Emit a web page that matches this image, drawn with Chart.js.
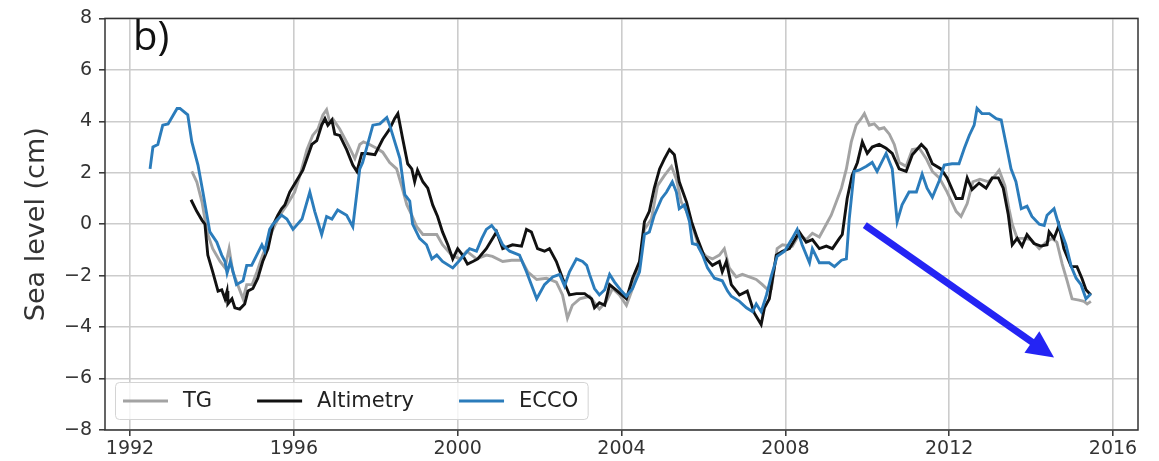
<!DOCTYPE html>
<html>
<head>
<meta charset="utf-8">
<title>Sea level</title>
<script src="https://cdn.jsdelivr.net/npm/chart.js@4/dist/chart.umd.min.js"></script>
<style>
  html, body { margin: 0; padding: 0; background: #fff; }
  #chart { display: block; }
</style>
</head>
<body>
<canvas id="chart" width="1159" height="461"></canvas>
<script>
const panelLabel = "b)";
const yTitle = "Sea level (cm)";
const xTickYears = [1992, 1996, 2000, 2004, 2008, 2012, 2016];
const yTickValues = [-8, -6, -4, -2, 0, 2, 4, 6, 8];

// tide gauge
const tgYears = [
  1993.51, 1993.63, 1993.76, 1993.88, 1994.02, 1994.2, 1994.32, 1994.42, 1994.51, 1994.63,
  1994.76, 1994.85, 1994.98, 1995.1, 1995.24, 1995.37, 1995.49, 1995.66, 1995.83, 1996.02,
  1996.15, 1996.32, 1996.46, 1996.59, 1996.71, 1996.8, 1996.88, 1996.95, 1997.12, 1997.32,
  1997.49, 1997.61, 1997.7, 1997.85, 1998.02, 1998.17, 1998.34, 1998.51, 1998.63, 1998.76,
  1998.88, 1999.0, 1999.15, 1999.32, 1999.49, 1999.63, 1999.85, 2000.05, 2000.22, 2000.46,
  2000.7, 2000.85, 2001.1, 2001.32, 2001.56, 2001.71, 2001.93, 2002.17, 2002.41, 2002.56,
  2002.68, 2002.8, 2002.98, 2003.22, 2003.46, 2003.63, 2003.78, 2003.95, 2004.12, 2004.27,
  2004.44, 2004.56, 2004.73, 2004.88, 2005.05, 2005.22, 2005.34, 2005.46, 2005.59, 2005.73,
  2005.9, 2006.07, 2006.22, 2006.39, 2006.51, 2006.63, 2006.8, 2006.95, 2007.12, 2007.29,
  2007.44, 2007.54, 2007.66, 2007.8, 2007.93, 2008.17, 2008.34, 2008.51, 2008.66, 2008.83,
  2009.0, 2009.12, 2009.24, 2009.37, 2009.49, 2009.61, 2009.73, 2009.85, 2009.93, 2010.05,
  2010.17, 2010.29, 2010.41, 2010.54, 2010.66, 2010.78, 2010.95, 2011.1, 2011.27, 2011.44,
  2011.59, 2011.76, 2011.95, 2012.17, 2012.29, 2012.44, 2012.58, 2012.75, 2012.95, 2013.1,
  2013.22, 2013.36, 2013.46, 2013.54, 2013.66, 2013.83, 2014.0, 2014.2, 2014.37, 2014.51,
  2014.63, 2014.76, 2014.88, 2015.0, 2015.17, 2015.29, 2015.37, 2015.46
];
const tgLevels = [
  2.05, 1.65, 0.85, -0.3, -0.95, -1.45, -1.7, -0.95, -1.85, -2.35,
  -2.9, -2.35, -2.35, -1.85, -1.2, -0.7, -0.2, 0.35, 0.75, 1.25,
  1.9, 2.9, 3.45, 3.7, 4.25, 4.45, 3.95, 4.1, 3.7, 3.1,
  2.55, 3.1, 3.2, 3.1, 2.95, 2.8, 2.4, 2.15, 1.5, 0.75,
  0.35, -0.1, -0.4, -0.4, -0.4, -0.8, -1.2, -1.35, -1.05, -1.35,
  -1.2, -1.25, -1.45, -1.4, -1.4, -1.85, -2.15, -2.1, -2.25, -2.75,
  -3.65, -3.15, -2.9, -2.8, -3.3, -3.0, -2.5, -2.75, -3.15, -2.5,
  -1.6, -0.2, 0.2, 1.5, 1.9, 2.25, 1.75, 0.85, 0.5, -0.05,
  -0.95, -1.25, -1.35, -1.2, -0.95, -1.7, -2.05, -1.95, -2.05, -2.15,
  -2.35, -2.5, -2.5, -0.95, -0.8, -0.85, -0.4, -0.6, -0.35, -0.5,
  0.0, 0.35, 0.85, 1.4, 2.15, 3.2, 3.85, 4.1, 4.3, 3.85,
  3.9, 3.7, 3.75, 3.5, 3.1, 2.4, 2.25, 2.9, 2.95, 2.55,
  2.05, 1.8, 1.25, 0.5, 0.3, 0.8, 1.65, 1.75, 1.65, 1.85,
  2.1, 1.5, 0.6, 0.0, -0.55, -0.55, -0.6, -0.95, -0.7, -0.55,
  -0.7, -1.55, -2.2, -2.9, -2.95, -3.0, -3.1, -3.0
];

// satellite altimetry
const altYears = [
  1993.49, 1993.63, 1993.76, 1993.83, 1993.9, 1994.02, 1994.15, 1994.24, 1994.32, 1994.37,
  1994.39, 1994.49, 1994.56, 1994.68, 1994.8, 1994.88, 1995.0, 1995.12, 1995.24, 1995.37,
  1995.49, 1995.61, 1995.7, 1995.78, 1995.9, 1996.07, 1996.22, 1996.32, 1996.44, 1996.56,
  1996.68, 1996.76, 1996.83, 1996.93, 1997.0, 1997.12, 1997.29, 1997.44, 1997.54, 1997.66,
  1997.78, 1997.98, 1998.17, 1998.34, 1998.46, 1998.54, 1998.66, 1998.78, 1998.88, 1998.95,
  1999.02, 1999.15, 1999.27, 1999.39, 1999.51, 1999.63, 1999.76, 1999.88, 2000.0, 2000.12,
  2000.24, 2000.37, 2000.49, 2000.7, 2000.95, 2001.1, 2001.34, 2001.56, 2001.68, 2001.8,
  2001.95, 2002.12, 2002.24, 2002.41, 2002.56, 2002.73, 2002.9, 2003.1, 2003.27, 2003.34,
  2003.46, 2003.59, 2003.71, 2003.9, 2004.12, 2004.27, 2004.44, 2004.56, 2004.68, 2004.8,
  2004.93, 2005.05, 2005.17, 2005.29, 2005.41, 2005.59, 2005.71, 2005.85, 2006.02, 2006.22,
  2006.39, 2006.46, 2006.56, 2006.68, 2006.88, 2007.07, 2007.24, 2007.41, 2007.49, 2007.61,
  2007.78, 2007.93, 2008.1, 2008.34, 2008.51, 2008.66, 2008.83, 2009.0, 2009.15, 2009.32,
  2009.39, 2009.51, 2009.63, 2009.76, 2009.88, 2010.0, 2010.12, 2010.29, 2010.46, 2010.61,
  2010.78, 2010.95, 2011.1, 2011.32, 2011.44, 2011.59, 2011.8, 2011.95, 2012.17, 2012.32,
  2012.44, 2012.56, 2012.73, 2012.9, 2013.05, 2013.2, 2013.32, 2013.44, 2013.54, 2013.66,
  2013.78, 2013.9, 2014.07, 2014.24, 2014.39, 2014.44, 2014.56, 2014.68, 2014.8, 2014.98,
  2015.12, 2015.24, 2015.34, 2015.46
];
const altLevels = [
  0.95, 0.5, 0.15, 0.0, -1.2, -1.85, -2.6, -2.55, -2.9, -2.6,
  -3.1, -2.9, -3.25, -3.3, -3.1, -2.6, -2.5, -2.1, -1.45, -0.95,
  -0.05, 0.35, 0.6, 0.75, 1.25, 1.7, 2.1, 2.55, 3.1, 3.25,
  3.85, 4.1, 3.85, 4.05, 3.5, 3.45, 2.9, 2.3, 2.05, 2.75,
  2.75, 2.7, 3.3, 3.7, 4.1, 4.3, 3.3, 2.35, 2.15, 1.65,
  2.1, 1.65, 1.4, 0.75, 0.3, -0.3, -0.8, -1.35, -0.95, -1.2,
  -1.55, -1.45, -1.35, -0.95, -0.3, -0.95, -0.8, -0.85, -0.2, -0.3,
  -0.95, -1.05, -0.95, -1.45, -2.1, -2.75, -2.7, -2.7, -2.9, -3.25,
  -3.05, -3.15, -2.35, -2.6, -2.9, -2.1, -1.45, 0.1, 0.5, 1.4,
  2.15, 2.55, 2.9, 2.7, 1.65, 0.85, 0.1, -0.55, -1.25, -1.6,
  -1.45, -1.85, -1.45, -2.35, -2.75, -2.6, -3.45, -3.9, -3.25, -2.9,
  -1.2, -1.05, -0.95, -0.3, -0.7, -0.6, -0.95, -0.85, -0.95, -0.55,
  -0.4, 1.0, 1.9, 2.4, 3.2, 2.75, 3.0, 3.1, 2.95, 2.75,
  2.15, 2.05, 2.7, 3.1, 2.9, 2.35, 2.15, 1.8, 1.0, 1.0,
  1.8, 1.35, 1.6, 1.4, 1.8, 1.8, 1.4, 0.4, -0.8, -0.55,
  -0.85, -0.4, -0.75, -0.85, -0.8, -0.3, -0.55, -0.05, -0.95, -1.65,
  -1.65, -2.1, -2.55, -2.75
];

// ocean state estimate
const eccoYears = [
  1992.49, 1992.56, 1992.68, 1992.8, 1992.93, 1993.15, 1993.22, 1993.41, 1993.51, 1993.66,
  1993.78, 1993.95, 1994.12, 1994.24, 1994.32, 1994.37, 1994.45, 1994.6, 1994.76, 1994.85,
  1994.97, 1995.22, 1995.29, 1995.41, 1995.49, 1995.7, 1995.83, 1995.98, 1996.2, 1996.39,
  1996.51, 1996.68, 1996.8, 1996.93, 1997.07, 1997.29, 1997.44, 1997.61, 1997.68, 1997.93,
  1998.1, 1998.27, 1998.34, 1998.59, 1998.71, 1998.83, 1998.9, 1999.07, 1999.24, 1999.37,
  1999.49, 1999.63, 1999.88, 2000.05, 2000.29, 2000.46, 2000.59, 2000.7, 2000.83, 2000.95,
  2001.1, 2001.27, 2001.51, 2001.68, 2001.93, 2002.12, 2002.32, 2002.49, 2002.61, 2002.73,
  2002.9, 2003.05, 2003.15, 2003.22, 2003.34, 2003.46, 2003.59, 2003.71, 2003.83, 2004.0,
  2004.12, 2004.27, 2004.44, 2004.56, 2004.68, 2004.8, 2004.98, 2005.1, 2005.24, 2005.34,
  2005.41, 2005.54, 2005.66, 2005.73, 2005.85, 2005.98, 2006.1, 2006.27, 2006.46, 2006.59,
  2006.68, 2006.88, 2007.05, 2007.2, 2007.29, 2007.41, 2007.54, 2007.66, 2007.8, 2007.98,
  2008.17, 2008.29, 2008.41, 2008.59, 2008.66, 2008.83, 2009.07, 2009.2, 2009.37, 2009.49,
  2009.56, 2009.68, 2009.8, 2009.98, 2010.12, 2010.24, 2010.46, 2010.61, 2010.73, 2010.85,
  2011.02, 2011.2, 2011.34, 2011.46, 2011.59, 2011.76, 2011.88, 2012.07, 2012.24, 2012.37,
  2012.49, 2012.61, 2012.68, 2012.8, 2012.98, 2013.15, 2013.27, 2013.41, 2013.51, 2013.63,
  2013.76, 2013.9, 2014.02, 2014.2, 2014.32, 2014.39, 2014.56, 2014.68, 2014.85, 2014.98,
  2015.1, 2015.22, 2015.34, 2015.46
];
const eccoLevels = [
  2.15, 3.0, 3.1, 3.85, 3.9, 4.5, 4.5, 4.25, 3.2, 2.3,
  1.25, -0.3, -0.7, -1.2, -1.45, -1.9, -1.45, -2.35, -2.2, -1.6,
  -1.6, -0.8, -1.05, -0.2, 0.0, 0.35, 0.2, -0.2, 0.2, 1.25,
  0.5, -0.4, 0.3, 0.2, 0.55, 0.35, -0.1, 2.15, 2.4, 3.85,
  3.9, 4.15, 3.85, 2.55, 1.15, 0.9, 0.0, -0.55, -0.8, -1.35,
  -1.2, -1.45, -1.7, -1.4, -0.95, -1.05, -0.55, -0.2, -0.05, -0.3,
  -0.8, -1.05, -1.2, -1.85, -2.9, -2.35, -2.05, -1.95, -2.4, -1.85,
  -1.35, -1.45, -1.6, -1.95, -2.5, -2.75, -2.55, -1.95, -2.25, -2.6,
  -2.8, -2.5, -1.85, -0.4, -0.3, 0.35, 1.0, 1.25, 1.65, 1.25,
  0.6, 0.75, 0.1, -0.75, -0.8, -1.2, -1.7, -2.1, -2.2, -2.6,
  -2.8, -3.0, -3.25, -3.4, -3.1, -3.4, -2.75, -2.0, -1.25, -1.05,
  -0.55, -0.2, -0.8, -1.5, -0.95, -1.5, -1.5, -1.65, -1.4, -1.35,
  0.2, 2.05, 2.1, 2.25, 2.4, 2.05, 2.75, 2.15, 0.1, 0.75,
  1.25, 1.25, 1.95, 1.4, 1.05, 1.7, 2.3, 2.35, 2.35, 2.95,
  3.45, 3.85, 4.5, 4.3, 4.3, 4.1, 4.05, 2.95, 2.15, 1.65,
  0.6, 0.7, 0.3, 0.0, -0.05, 0.35, 0.6, -0.05, -0.8, -1.65,
  -2.1, -2.35, -2.9, -2.7
];

// trend arrow, in data units (year, cm)
const arrowFrom = [2009.94, -0.04];
const arrowTo = [2014.56, -5.18];

const toPoints = (years, levels) => years.map((x, i) => ({ x, y: levels[i] }));

const FONT = "'DejaVu Sans', sans-serif";
const AXIS_COLOR = "#333333";
const GRID_COLOR = "#cccccc";

const series = [
  { label: "TG", years: tgYears, levels: tgLevels, color: "#a3a3a3", order: 3 },
  { label: "Altimetry", years: altYears, levels: altLevels, color: "#111111", order: 2 },
  { label: "ECCO", years: eccoYears, levels: eccoLevels, color: "#2b7cbb", order: 1 },
];

const frameAndExtras = {
  id: "frameAndExtras",
  afterDatasetsDraw(chart) {
    const { ctx, chartArea: a, scales } = chart;
    ctx.save();

    // spines on all four sides
    ctx.strokeStyle = AXIS_COLOR;
    ctx.lineWidth = 1.5;
    ctx.strokeRect(a.left, a.top, a.right - a.left, a.bottom - a.top);

    // trend arrow
    const x0 = scales.x.getPixelForValue(arrowFrom[0]);
    const y0 = scales.y.getPixelForValue(arrowFrom[1]);
    const x1 = scales.x.getPixelForValue(arrowTo[0]);
    const y1 = scales.y.getPixelForValue(arrowTo[1]);
    const ang = Math.atan2(y1 - y0, x1 - x0);
    const headLen = 27;
    const headHalf = 13;
    const bx = x1 - headLen * Math.cos(ang);
    const by = y1 - headLen * Math.sin(ang);
    ctx.strokeStyle = "#2424f4";
    ctx.fillStyle = "#2424f4";
    ctx.lineWidth = 7;
    ctx.lineCap = "butt";
    ctx.beginPath();
    ctx.moveTo(x0, y0);
    ctx.lineTo(bx + 2 * Math.cos(ang), by + 2 * Math.sin(ang));
    ctx.stroke();
    ctx.beginPath();
    ctx.moveTo(x1, y1);
    ctx.lineTo(bx + headHalf * Math.sin(ang), by - headHalf * Math.cos(ang));
    ctx.lineTo(bx - headHalf * Math.sin(ang), by + headHalf * Math.cos(ang));
    ctx.closePath();
    ctx.fill();

    // panel label
    ctx.fillStyle = "#111111";
    ctx.font = "40px 'Open Sans', sans-serif";
    ctx.textAlign = "left";
    ctx.textBaseline = "alphabetic";
    ctx.fillText(panelLabel, 133, 50);

    // legend box in the lower left corner
    const boxLeft = 115.5, boxTop = 382.5, boxH = 37;
    ctx.font = "21px " + FONT;
    const handle = 45, gapText = 15, gapItem = 45;
    let cx = boxLeft + 7.5;
    const items = chart.data.datasets.map((ds) => {
      const w = ctx.measureText(ds.label).width;
      const item = { x: cx, label: ds.label, color: ds.borderColor, w };
      cx += handle + gapText + w + gapItem;
      return item;
    });
    const last = items[items.length - 1];
    const boxRight = last.x + handle + gapText + last.w + 10;
    ctx.beginPath();
    ctx.roundRect(boxLeft, boxTop, boxRight - boxLeft, boxH, 4);
    ctx.fillStyle = "rgba(255,255,255,0.8)";
    ctx.fill();
    ctx.strokeStyle = "#d4d4d4";
    ctx.lineWidth = 1;
    ctx.stroke();

    const midY = boxTop + boxH / 2;
    ctx.textBaseline = "middle";
    items.forEach((it) => {
      ctx.strokeStyle = it.color;
      ctx.lineWidth = 3;
      ctx.beginPath();
      ctx.moveTo(it.x, midY);
      ctx.lineTo(it.x + handle, midY);
      ctx.stroke();
      ctx.fillStyle = "#222222";
      ctx.fillText(it.label, it.x + handle + gapText, midY + 1);
    });

    ctx.restore();
  },
};

new Chart(document.getElementById("chart"), {
  type: "line",
  data: {
    datasets: series.map((s) => ({
      label: s.label,
      data: toPoints(s.years, s.levels),
      borderColor: s.color,
      backgroundColor: s.color,
      borderWidth: 2.9,
      pointRadius: 0,
      tension: 0,
      fill: false,
      order: s.order,
    })),
  },
  options: {
    responsive: false,
    animation: false,
    events: [],
    layout: { padding: { top: 16, right: 21, bottom: 0, left: 0 } },
    plugins: {
      legend: { display: false },
      tooltip: { enabled: false },
    },
    scales: {
      x: {
        type: "linear",
        min: 1991.39,
        max: 2016.61,
        afterBuildTicks: (scale) => {
          scale.ticks = xTickYears.map((v) => ({ value: v }));
        },
        afterFit: (scale) => {
          scale.height = 31;
        },
        ticks: {
          callback: (v) => String(v),
          color: "#333333",
          font: { family: FONT, size: 19 },
          padding: 2,
          maxRotation: 0,
        },
        grid: { color: GRID_COLOR, lineWidth: 1.6, tickLength: 6, tickColor: AXIS_COLOR, tickWidth: 1.5 },
        border: { display: false },
      },
      y: {
        min: -8,
        max: 8,
        afterBuildTicks: (scale) => {
          scale.ticks = yTickValues.map((v) => ({ value: v }));
        },
        afterFit: (scale) => {
          scale.width = 105;
        },
        ticks: {
          callback: (v) => (v < 0 ? "\u2212" + Math.abs(v) : String(v)),
          color: "#333333",
          font: { family: FONT, size: 19 },
          padding: 7,
        },
        grid: { color: GRID_COLOR, lineWidth: 1.6, tickLength: 6, tickColor: AXIS_COLOR, tickWidth: 1.5 },
        border: { display: false },
        title: {
          display: true,
          text: yTitle,
          color: "#333333",
          font: { family: FONT, size: 27 },
          padding: { top: 21, bottom: 0 },
        },
      },
    },
  },
  plugins: [frameAndExtras],
});
</script>
</body>
</html>
